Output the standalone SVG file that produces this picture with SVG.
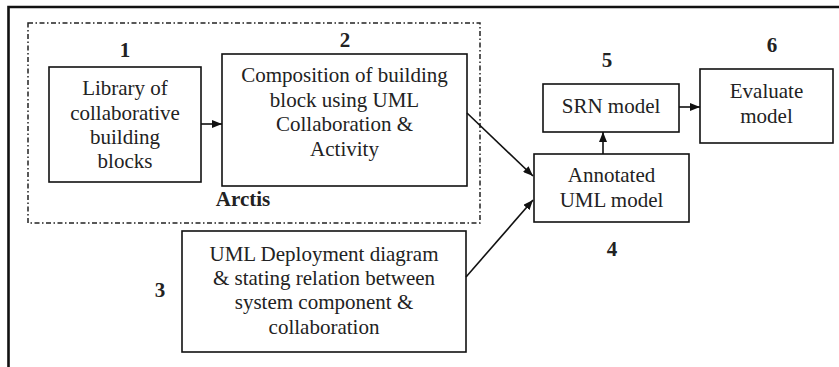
<svg xmlns="http://www.w3.org/2000/svg" width="839" height="367" viewBox="0 0 839 367">
<defs>
<style>
.box{fill:#fff;stroke:#111;stroke-width:1.6}
.t{font-family:"Liberation Serif","Times New Roman",serif;font-size:21px;fill:#222;text-anchor:middle}
.n{font-family:"Liberation Serif","Times New Roman",serif;font-size:21px;font-weight:bold;fill:#222;text-anchor:middle}
.c{fill:none;stroke:#111;stroke-width:1.6}
</style>
<marker id="ah" markerUnits="userSpaceOnUse" markerWidth="10" markerHeight="8" refX="10" refY="4" orient="auto">
<path d="M0,0 L10,4 L0,8 z" fill="#111"/>
</marker>
</defs>
<rect width="839" height="367" fill="#fff"/>
<g id="frame">
<path d="M8.5,367 V7 H839" fill="none" stroke="#111" stroke-width="2.6"/>
</g>
<g id="arctis">
<rect x="28" y="23" width="452" height="200" fill="none" stroke="#222" stroke-width="1.5" stroke-dasharray="5 2.5 1.5 2.5"/>
<text class="n" x="243" y="206">Arctis</text>
</g>
<g id="node1">
<rect class="box" x="49" y="67" width="152" height="115"/>
<text class="n" x="125" y="57">1</text>
<text class="t" x="125" y="95">Library of</text>
<text class="t" x="125" y="120">collaborative</text>
<text class="t" x="125" y="144">building</text>
<text class="t" x="125" y="168">blocks</text>
</g>
<g id="node2">
<rect class="box" x="222" y="54" width="245" height="132"/>
<text class="n" x="345" y="47">2</text>
<text class="t" x="344.5" y="82">Composition of building</text>
<text class="t" x="344.5" y="107">block using UML</text>
<text class="t" x="344.5" y="131">Collaboration &amp;</text>
<text class="t" x="344.5" y="156">Activity</text>
</g>
<g id="node3">
<rect class="box" x="182" y="231" width="284" height="121"/>
<text class="n" x="160" y="297">3</text>
<text class="t" x="324" y="261">UML Deployment diagram</text>
<text class="t" x="324" y="285">&amp; stating relation between</text>
<text class="t" x="324" y="309">system component &amp;</text>
<text class="t" x="324" y="334">collaboration</text>
</g>
<g id="node4">
<rect class="box" x="534" y="154" width="155" height="68"/>
<text class="n" x="612" y="256">4</text>
<text class="t" x="611.5" y="182">Annotated</text>
<text class="t" x="611.5" y="207">UML model</text>
</g>
<g id="node5">
<rect class="box" x="543" y="84" width="136" height="48"/>
<text class="n" x="607" y="67">5</text>
<text class="t" x="611" y="113">SRN model</text>
</g>
<g id="node6">
<rect class="box" x="700" y="69" width="133" height="74"/>
<text class="n" x="772" y="52">6</text>
<text class="t" x="766.5" y="98">Evaluate</text>
<text class="t" x="766.5" y="123">model</text>
</g>
<g id="connectors">
<line class="c" x1="201" y1="124" x2="222" y2="124" marker-end="url(#ah)"/>
<line class="c" x1="467" y1="113" x2="533" y2="176" marker-end="url(#ah)"/>
<line class="c" x1="466" y1="277" x2="533" y2="200" marker-end="url(#ah)"/>
<line class="c" x1="603" y1="154" x2="603" y2="132" marker-end="url(#ah)"/>
<line class="c" x1="679" y1="107" x2="700" y2="107" marker-end="url(#ah)"/>
</g>
</svg>
